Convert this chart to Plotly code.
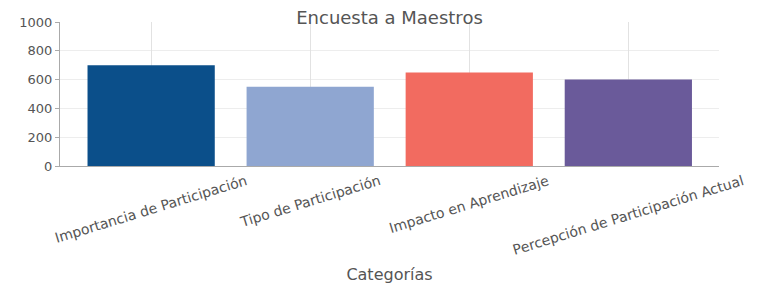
import plotly.graph_objects as go

categories = ["Importancia de Participación", "Tipo de Participación",
              "Impacto en Aprendizaje", "Percepción de Participación Actual"]
values = [700, 550, 650, 600]
colors = ["#0b4f8a", "#8fa6d1", "#f26b60", "#6a5a9a"]
y_ticks = [0, 200, 400, 600, 800, 1000]

x_idx = list(range(len(categories)))

fig = go.Figure(go.Bar(x=x_idx, y=values,
                       marker=dict(color=colors, line=dict(width=0)), width=0.8))

# rotated category labels, centred on their ticks
for i, lab in enumerate(categories):
    fig.add_annotation(x=i, xref="x", y=0, yref="paper", yshift=-4,
                       text=lab, textangle=-17, showarrow=False,
                       xanchor="center", yanchor="top",
                       font=dict(size=14, color="#555", family="DejaVu Sans"))

fig.update_layout(
    width=757, height=286,
    margin=dict(l=52, r=46, t=14, b=128, autoexpand=False),
    paper_bgcolor="white", plot_bgcolor="white",
    title=dict(text="Encuesta a Maestros", x=0.5, xref="paper",
               y=0.965, yref="container", xanchor="center", yanchor="middle",
               font=dict(size=18, color="#555", family="DejaVu Sans")),
    font=dict(family="DejaVu Sans", size=11, color="#555"),
    showlegend=False,
)
fig.update_xaxes(tickvals=x_idx, showticklabels=False, automargin=False,
                 range=[-0.573, 3.57], showgrid=True, gridcolor="rgba(190,190,190,0.45)",
                 layer="above traces",
                 showline=True, linecolor="#aaa", ticks="",
                 title=dict(text="Categorías", font=dict(size=16, color="#555"), standoff=102))
fig.update_yaxes(range=[0, 1000], tickvals=y_ticks, automargin=False,
                 showgrid=True, gridcolor="rgba(225,225,225,0.6)",
                 showline=True, linecolor="#aaa", ticks="outside", ticklen=4, tickcolor="#aaa",
                 zeroline=False, tickfont=dict(size=13, color="#555"))
fig.write_html("out.html")
